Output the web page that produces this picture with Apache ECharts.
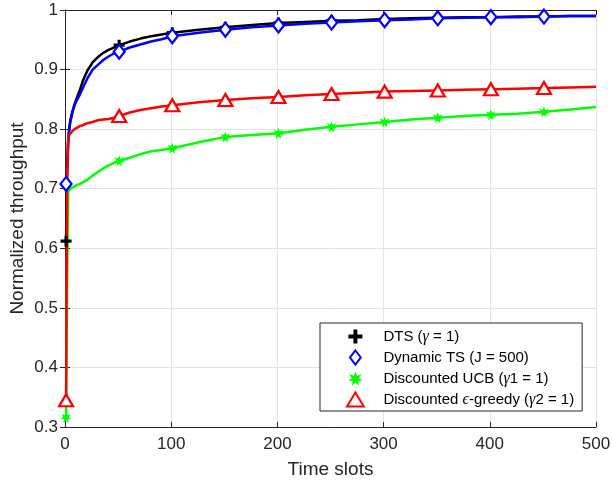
<!DOCTYPE html>
<html>
<head>
<meta charset="utf-8">
<script src="https://cdn.jsdelivr.net/npm/echarts@6/dist/echarts.min.js"></script>
<style>
  html, body { margin: 0; padding: 0; background: #fff; }
  #chart { width: 612px; height: 489px; }
</style>
</head>
<body>
<div id="chart"></div>
<script>
// 数据
const timeSlots = [1, 2, 3, 4, 5, 7, 9, 11, 14, 17, 21, 26, 31, 36, 41, 46, 51, 61, 71, 81, 91, 101,
  126, 151, 176, 201, 226, 251, 276, 301, 326, 351, 376, 401, 426, 451, 476, 500];
const markerSlots = [1, 51, 101, 151, 201, 251, 301, 351, 401, 451];

const dtsValues = [0.612, 0.72, 0.78, 0.8, 0.815, 0.83, 0.842, 0.852, 0.866, 0.882, 0.898, 0.912, 0.921,
  0.928, 0.933, 0.937, 0.941, 0.947, 0.952, 0.956, 0.959, 0.962, 0.967, 0.971, 0.975, 0.978, 0.98, 0.982,
  0.983, 0.985, 0.986, 0.987, 0.988, 0.988, 0.989, 0.989, 0.99, 0.99];
const dynTsValues = [0.708, 0.74, 0.78, 0.8, 0.812, 0.828, 0.84, 0.848, 0.858, 0.87, 0.885, 0.9, 0.908,
  0.916, 0.922, 0.927, 0.93, 0.937, 0.942, 0.947, 0.951, 0.956, 0.962, 0.967, 0.971, 0.974, 0.977, 0.979,
  0.981, 0.983, 0.984, 0.986, 0.987, 0.988, 0.988, 0.989, 0.99, 0.99];
const ucbValues = [0.316, 0.55, 0.695, 0.698, 0.7, 0.702, 0.704, 0.706, 0.708, 0.711, 0.715, 0.722, 0.728,
  0.734, 0.739, 0.743, 0.747, 0.752, 0.758, 0.763, 0.765, 0.768, 0.778, 0.787, 0.79, 0.793, 0.799, 0.804,
  0.808, 0.812, 0.816, 0.819, 0.822, 0.824, 0.826, 0.829, 0.833, 0.837];
const greedyValues = [0.345, 0.72, 0.785, 0.79, 0.793, 0.797, 0.8, 0.802, 0.805, 0.807, 0.81, 0.812, 0.815,
  0.816, 0.817, 0.819, 0.822, 0.828, 0.832, 0.835, 0.838, 0.84, 0.845, 0.849, 0.852, 0.854, 0.857, 0.859,
  0.861, 0.863, 0.864, 0.865, 0.866, 0.867, 0.868, 0.869, 0.87, 0.871];

const seriesNames = ['DTS (γ = 1)', 'Dynamic TS (J = 500)', 'Discounted UCB (γ1 = 1)', 'Discounted ϵ-greedy (γ2 = 1)'];

const plusPath = 'path://M3.6,0H6.4V3.6H10V6.4H6.4V10H3.6V6.4H0V3.6H3.6Z';
const starPath = 'path://M5,0L6.2,3.1L9.3,1.6L7.6,4.6L10,6L7,6.5L7.3,9.7L5,7.6L2.7,9.7L3,6.5L0,6L2.4,4.6L0.7,1.6L3.8,3.1Z';
const diamondPath = 'path://M5,0L10,6.5L5,13L0,6.5Z';
const trianglePath = 'path://M6,0L12,10L0,10Z';

const chart = echarts.init(document.getElementById('chart'));

function pairs(values) {
  return timeSlots.map((t, i) => [t, values[i]]);
}
function markers(values) {
  return timeSlots.map((t, i) => [t, values[i]]).filter(p => markerSlots.indexOf(p[0]) >= 0);
}

const styles = [
  { values: dtsValues, color: '#000000', symbol: plusPath, size: [11, 11], fill: '#000000' },
  { values: dynTsValues, color: '#0000ff', symbol: diamondPath, size: [11, 14], fill: '#ffffff' },
  { values: ucbValues, color: '#00ff00', symbol: starPath, size: [11, 11], fill: '#00ff00' },
  { values: greedyValues, color: '#ff0000', symbol: trianglePath, size: [14, 12], fill: '#ffffff' }
];

const series = [];
styles.forEach((s, k) => {
  series.push({
    name: 'line' + k,
    type: 'line',
    data: pairs(s.values),
    showSymbol: false,
    symbol: 'none',
    lineStyle: { color: s.color, width: 2.5 },
    z: 2 + k
  });
});
styles.forEach((s, k) => {
  series.push({
    name: seriesNames[k],
    type: 'scatter',
    data: markers(s.values),
    symbol: s.symbol,
    symbolSize: s.size,
    itemStyle: {
      color: s.fill,
      borderColor: s.color,
      borderWidth: s.fill === '#ffffff' ? 2.2 : 0,
      opacity: 1
    },
    z: 10 + k
  });
});

const axisColor = '#262626';
const font = 'Liberation Sans';

const option = {
  animation: false,
  grid: { left: 65, right: 16, top: 10, bottom: 62, containLabel: false, outerBoundsMode: 'none' },
  xAxis: [
    {
      type: 'value', min: 0, max: 500, interval: 100,
      name: 'Time slots', nameLocation: 'middle', nameGap: 33, nameMoveOverlap: false,
      nameTextStyle: { color: axisColor, fontSize: 19, fontFamily: font },
      axisLine: { show: true, lineStyle: { color: axisColor, width: 1 } },
      axisTick: { show: true, inside: true, length: 5, lineStyle: { color: axisColor } },
      axisLabel: { color: axisColor, fontSize: 17, fontFamily: font, margin: 9 },
      splitLine: { show: true, lineStyle: { color: '#e3e3e3', width: 1 } }
    },
    {
      type: 'value', min: 0, max: 500, interval: 100, position: 'top',
      axisLine: { show: true, lineStyle: { color: axisColor, width: 1 } },
      axisTick: { show: true, inside: true, length: 5, lineStyle: { color: axisColor } },
      axisLabel: { show: false },
      splitLine: { show: false }
    }
  ],
  yAxis: [
    {
      type: 'value', min: 0.3, max: 1, interval: 0.1,
      name: 'Normalized throughput', nameLocation: 'middle', nameGap: 38, nameMoveOverlap: false,
      nameTextStyle: { color: axisColor, fontSize: 19, fontFamily: font },
      axisLine: { show: true, lineStyle: { color: axisColor, width: 1 } },
      axisTick: { show: true, inside: true, length: 5, lineStyle: { color: axisColor } },
      axisLabel: {
        color: axisColor, fontSize: 17, fontFamily: font, margin: 7,
        formatter: v => String(parseFloat(v.toFixed(1)))
      },
      splitLine: { show: true, lineStyle: { color: '#e3e3e3', width: 1 } }
    },
    {
      type: 'value', min: 0.3, max: 1, interval: 0.1, position: 'right',
      axisLine: { show: true, lineStyle: { color: axisColor, width: 1 } },
      axisTick: { show: true, inside: true, length: 5, lineStyle: { color: axisColor } },
      axisLabel: { show: false },
      splitLine: { show: false }
    }
  ],
  legend: {
    data: seriesNames,
    orient: 'vertical',
    left: 320, top: 323,
    padding: [5, 8, 3, 26],
    itemGap: 4,
    itemWidth: 46,
    itemHeight: 14,
    backgroundColor: '#ffffff',
    borderColor: '#262626',
    borderWidth: 1,
    borderRadius: 0,
    textStyle: {
      color: '#000000', fontSize: 15, fontFamily: font, lineHeight: 17,
      rich: { i: { fontStyle: 'italic', fontFamily: 'Liberation Serif', fontSize: 16, lineHeight: 17, color: '#000000' } }
    },
    formatter: name => name.replace(/([γϵ])/g, '{i|$1}')
  },
  series: series
};

chart.setOption(option);
</script>
</body>
</html>
